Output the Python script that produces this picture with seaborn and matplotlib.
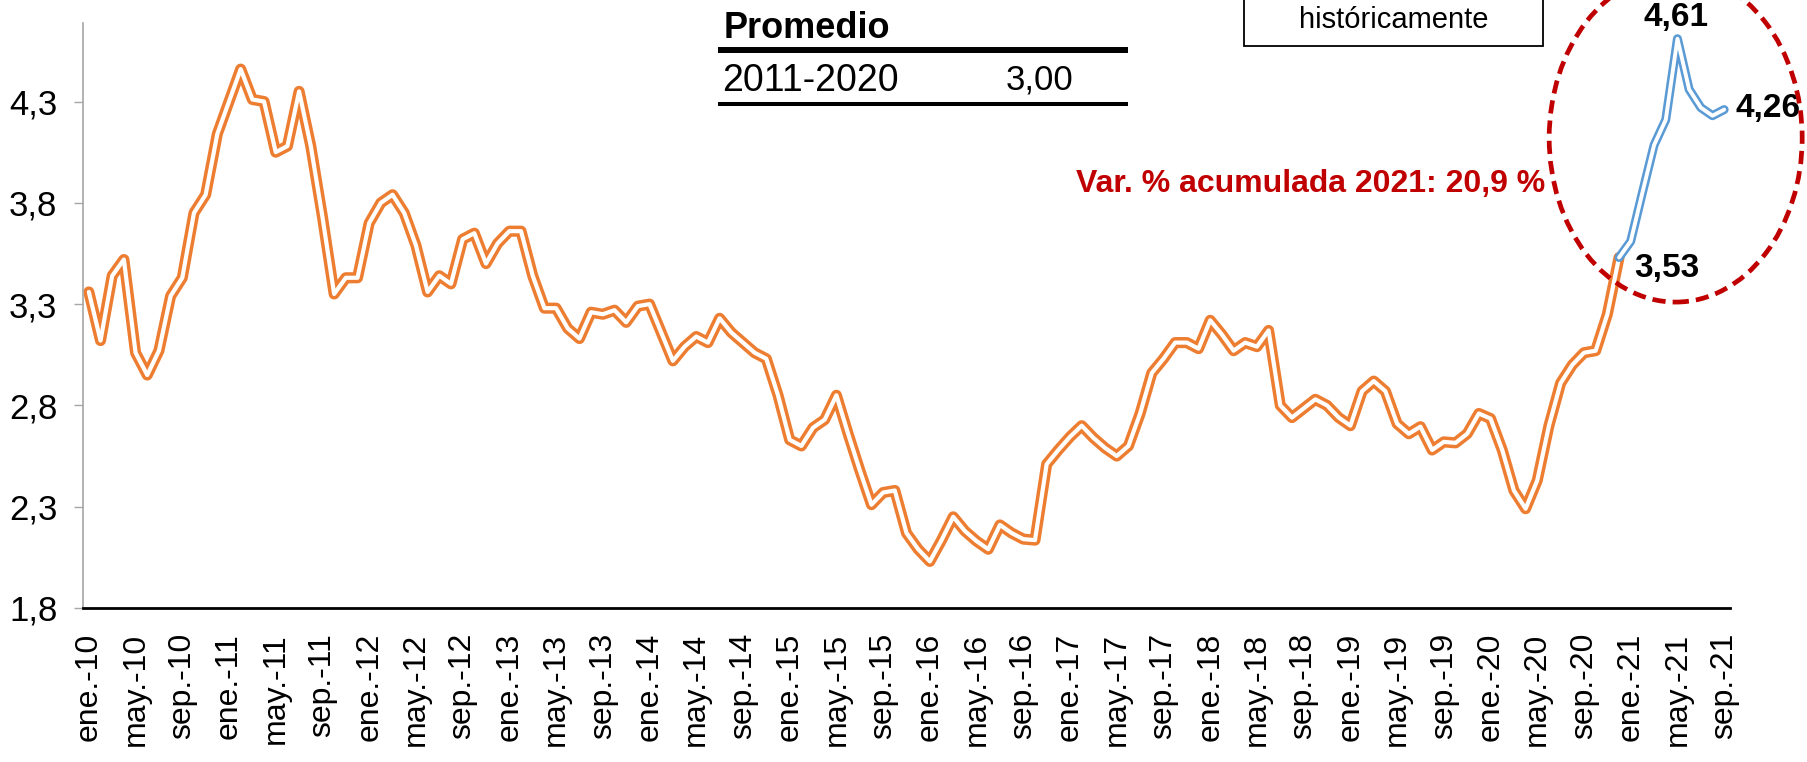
import matplotlib
matplotlib.use("Agg")
import matplotlib.pyplot as plt
import matplotlib.patches as mpatches
from matplotlib.lines import Line2D
from matplotlib.ticker import FuncFormatter, FixedLocator
import seaborn as sns

# ==========================================================
# Data (monthly, ene-10 .. sep-21)
# ==========================================================
meses = ["ene.", "feb.", "mar.", "abr.", "may.", "jun.",
         "jul.", "ago.", "sep.", "oct.", "nov.", "dic."]
anios = ["10", "11", "12", "13", "14", "15", "16", "17", "18", "19", "20", "21"]
etiquetas = [f"{m}-{a}" for a in anios for m in meses][:141]

# ene-10 .. dic-20
precio_hist = [
    3.36, 3.12, 3.44, 3.52, 3.06, 2.95, 3.07, 3.34, 3.43, 3.75, 3.84, 4.14,
    4.30, 4.46, 4.31, 4.30, 4.05, 4.08, 4.35, 4.08, 3.73, 3.35, 3.43, 3.43,
    3.70, 3.80, 3.84, 3.75, 3.59, 3.36, 3.44, 3.40, 3.62, 3.65, 3.50, 3.60,
    3.66, 3.66, 3.44, 3.28, 3.28, 3.18, 3.13, 3.26, 3.25, 3.27, 3.21, 3.29,
    3.30, 3.16, 3.02, 3.09, 3.14, 3.11, 3.23, 3.16, 3.11, 3.06, 3.03, 2.85,
    2.63, 2.60, 2.69, 2.73, 2.85, 2.66, 2.48, 2.31, 2.37, 2.38, 2.17, 2.09,
    2.03, 2.135, 2.25, 2.18, 2.13, 2.09, 2.21, 2.17, 2.14, 2.135, 2.51, 2.58,
    2.645, 2.70, 2.64, 2.59, 2.55, 2.60, 2.76, 2.96, 3.03, 3.11, 3.11, 3.08,
    3.22, 3.15, 3.07, 3.11, 3.09, 3.17, 2.80, 2.74, 2.785, 2.83, 2.80, 2.74,
    2.70, 2.87, 2.92, 2.87, 2.71, 2.66, 2.695, 2.58, 2.62, 2.615, 2.66, 2.76,
    2.735, 2.58, 2.38, 2.29, 2.43, 2.70, 2.91, 3.00, 3.06, 3.07, 3.25, 3.53,
]
# dic-20 .. sep-21
precio_2021 = [3.53, 3.61, 3.85, 4.085, 4.21, 4.61, 4.36, 4.27, 4.23, 4.26]

x_hist = list(range(len(precio_hist)))
x_2021 = list(range(len(precio_hist) - 1, len(precio_hist) - 1 + len(precio_2021)))

promedio_periodo = "2011-2020"
promedio_valor = "3,00"

naranja = "#ED7D31"
azul = "#5B9BD5"
rojo = "#C00000"

# ==========================================================
# Figure
# ==========================================================
sns.set_theme(style="white")
plt.rcParams['font.family'] = ['Liberation Sans', 'DejaVu Sans']

fig = plt.figure(figsize=(18.08, 7.62), dpi=100)
ax = fig.add_axes([0.04591, 0.20210, 0.91095, 0.76837])

# double lines (coloured outline + white core)
sns.lineplot(x=x_hist, y=precio_hist, ax=ax, color=naranja, lw=8,
             solid_joinstyle='round', solid_capstyle='round')
sns.lineplot(x=x_hist, y=precio_hist, ax=ax, color='white', lw=3,
             solid_joinstyle='round', solid_capstyle='round')
sns.lineplot(x=x_2021, y=precio_2021, ax=ax, color=azul, lw=6.5,
             solid_joinstyle='round', solid_capstyle='round')
sns.lineplot(x=x_2021, y=precio_2021, ax=ax, color='white', lw=2.8,
             solid_joinstyle='round', solid_capstyle='round')

ax.set_xlim(-0.5, len(etiquetas) - 0.5)
ax.set_ylim(1.8, 4.69)
ax.yaxis.set_major_locator(FixedLocator([1.8, 2.3, 2.8, 3.3, 3.8, 4.3]))
ax.yaxis.set_major_formatter(FuncFormatter(lambda v, p: f"{v:.1f}".replace('.', ',')))
ax.set_xticks(range(0, len(etiquetas), 4))
ax.set_xticklabels(etiquetas[::4], rotation=90, ha='center', va='top')
ax.set_xlabel('')
ax.set_ylabel('')
ax.grid(False)

ax.tick_params(axis='y', which='major', length=6.5, width=1, color='#A6A6A6',
               direction='out', left=True, labelsize=25, pad=12, labelcolor='black')
ax.tick_params(axis='x', length=0, labelsize=23, pad=18, labelcolor='black')

for s in ['top', 'right']:
    ax.spines[s].set_visible(False)
ax.spines['left'].set_color('#A6A6A6')
ax.spines['left'].set_linewidth(1.2)
ax.spines['bottom'].set_color('black')
ax.spines['bottom'].set_linewidth(2)

# --- point labels ---
ax.annotate("4,61", (x_2021[5], precio_2021[5]), xytext=(-1, 9), textcoords='offset points',
            ha='center', va='baseline', fontsize=24, fontweight='bold', color='black')
ax.annotate("4,26", (x_2021[-1], precio_2021[-1]), xytext=(8, 1), textcoords='offset points',
            ha='left', va='center', fontsize=24, fontweight='bold', color='black')
ax.annotate("3,53", (x_2021[0], precio_2021[0]), xytext=(11, -8), textcoords='offset points',
            ha='left', va='center', fontsize=24, fontweight='bold', color='black')

# --- dashed red ellipse ---
elipse = mpatches.Ellipse((135.85, 4.12), 21.66, 1.62, fill=False, edgecolor=rojo,
                          lw=3.4, linestyle=(0, (2.8, 1.5)), clip_on=False, zorder=5)
ax.add_patch(elipse)

fig.text(1545 / 1808, 1 - 184 / 762, "Var. % acumulada 2021: 20,9 %", ha='right', va='center',
         fontsize=23, fontweight='bold', color=rojo)

# --- "Promedio" table ---
fig.text(724 / 1808, 1 - 38 / 762, "Promedio", ha='left', va='baseline',
         fontsize=26, fontweight='bold', color='black')
fig.text(722 / 1808, 1 - 91 / 762, promedio_periodo, ha='left', va='baseline',
         fontsize=27, color='black')
fig.text(1040 / 1808, 1 - 90 / 762, promedio_valor, ha='center', va='baseline',
         fontsize=25, color='black')
fig.add_artist(Line2D([718 / 1808, 1128 / 1808], [1 - 50 / 762] * 2, transform=fig.transFigure,
                      color='black', lw=4.3, solid_capstyle='butt'))
fig.add_artist(Line2D([718 / 1808, 1128 / 1808], [1 - 104 / 762] * 2, transform=fig.transFigure,
                      color='black', lw=2.9, solid_capstyle='butt'))

# --- text box (top cut off) ---
caja = mpatches.Rectangle((1244 / 1808, 1 - 46 / 762), 299 / 1808, 0.2, transform=fig.transFigure,
                          facecolor='white', edgecolor='black', lw=1.3, clip_on=False, zorder=6)
fig.add_artist(caja)
fig.text(1394 / 1808, 1 - 28 / 762, "históricamente", ha='center', va='baseline',
         fontsize=21, color='black', zorder=7)

fig.savefig('out.png', dpi=100)
